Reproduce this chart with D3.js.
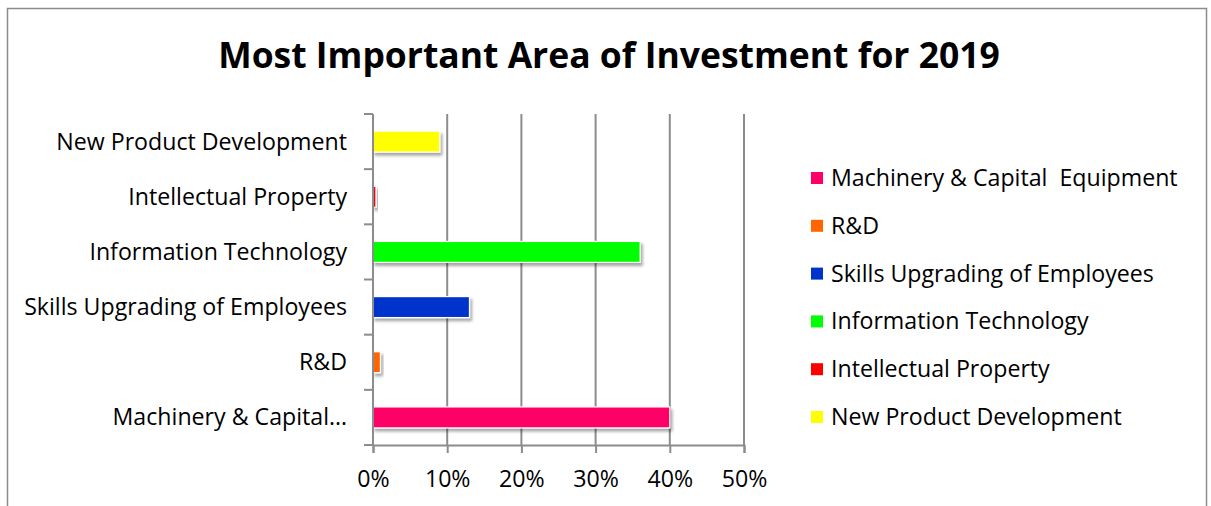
<!DOCTYPE html>
<html>
<head>
<meta charset="utf-8">
<script src="https://cdn.jsdelivr.net/npm/d3@7"></script>
<style>
  html, body { margin: 0; padding: 0; background: #fff; }
  svg { display: block; }
  text { font-family: "Open Sans", Carlito, Calibri, sans-serif; fill: #000; }
</style>
</head>
<body>
<svg id="chart" width="1211" height="506"></svg>
<script>
// Survey answers: share of respondents naming each area (bottom to top on the chart)
const categories = [
  "Machinery & Capital  Equipment",
  "R&D",
  "Skills Upgrading of Employees",
  "Information Technology",
  "Intellectual Property",
  "New Product Development"
];
const axisLabels = [
  "Machinery & Capital…",
  "R&D",
  "Skills Upgrading of Employees",
  "Information Technology",
  "Intellectual Property",
  "New Product Development"
];
const values = [0.40, 0.01, 0.13, 0.36, 0.004, 0.09];
const colors = ["#FF0066", "#FF6600", "#0033CC", "#00FF00", "#FF0000", "#FFFF00"];
const xTicks = [0, 0.1, 0.2, 0.3, 0.4, 0.5];
const title = "Most Important Area of Investment for 2019";

const svg = d3.select("#chart");

// Pick a font size so that a text spans the wanted width
function fitSize(str, width, weight) {
  const t = svg.append("text").style("font-size", "100px").style("font-weight", weight || "normal").text(str);
  const w = t.node().getComputedTextLength();
  t.remove();
  return 100 * width / w;
}

// Outer chart frame
svg.append("rect")
  .attr("x", 7.5).attr("y", 8.5)
  .attr("width", 1199).attr("height", 520)
  .attr("fill", "#fff").attr("stroke", "#8c8c8c").attr("stroke-width", 1.5);

// Soft shadow under the bars
const defs = svg.append("defs");
const f = defs.append("filter").attr("id", "barShadow")
  .attr("x", "-20%").attr("y", "-40%").attr("width", "160%").attr("height", "200%");
f.append("feDropShadow")
  .attr("dx", 2).attr("dy", 3).attr("stdDeviation", 1.8)
  .attr("flood-color", "#000").attr("flood-opacity", 0.35);

// Title
const titleSize = Math.min(fitSize(title, 782, "bold"), 36);
svg.append("text")
  .attr("x", 609).attr("y", 68)
  .attr("text-anchor", "middle")
  .style("font-size", titleSize + "px").style("font-weight", "bold")
  .text(title);

const labelSize = Math.min(fitSize("Skills Upgrading of Employees", 323), 25);

const plot = { left: 373, right: 744, top: 114, bottom: 445 };

const x = d3.scaleLinear().domain([0, 0.5]).range([plot.left, plot.right]);
const y = d3.scaleBand()
  .domain(d3.range(categories.length))
  .range([plot.bottom, plot.top])
  .paddingInner(0.62).paddingOuter(0.31);
const yTicks = d3.scaleBand().domain(d3.range(categories.length)).range([plot.bottom, plot.top]);

const grey = "#8c8c8c";

// Vertical gridlines
svg.append("g").selectAll("line")
  .data(xTicks.slice(1))
  .join("line")
  .attr("x1", d => x(d)).attr("x2", d => x(d))
  .attr("y1", plot.top).attr("y2", plot.bottom)
  .attr("stroke", grey).attr("stroke-width", 2);

// Bars
svg.append("g").selectAll("rect")
  .data(values)
  .join("rect")
  .attr("x", x(0))
  .attr("y", (d, i) => y(i))
  .attr("width", d => x(d) - x(0))
  .attr("height", y.bandwidth())
  .attr("fill", (d, i) => colors[i])
  .attr("stroke", "#fff").attr("stroke-width", 1.2)
  .attr("filter", "url(#barShadow)");

// X axis
const xAxis = d3.axisBottom(x).tickValues(xTicks).tickFormat(d3.format(".0%")).tickSizeOuter(0).tickSize(8);
const gx = svg.append("g").attr("transform", `translate(0,${plot.bottom})`).call(xAxis);
gx.select(".domain").attr("stroke", grey).attr("stroke-width", 2);
gx.selectAll(".tick line").attr("stroke", grey).attr("stroke-width", 2);
gx.selectAll(".tick text").attr("dy", 0).attr("y", 42)
  .style("font-size", labelSize + "px")
  .style("font-family", "\"Open Sans\", Carlito, Calibri, sans-serif");

// Y axis: tick marks at band boundaries, labels at band centres
const yBounds = d3.range(categories.length + 1).map(i => i === categories.length ? plot.top : yTicks(i) + yTicks.bandwidth());
svg.append("line")
  .attr("x1", plot.left).attr("x2", plot.left)
  .attr("y1", plot.top).attr("y2", plot.bottom)
  .attr("stroke", grey).attr("stroke-width", 2);
svg.append("g").selectAll("line")
  .data(yBounds)
  .join("line")
  .attr("x1", plot.left - 9).attr("x2", plot.left)
  .attr("y1", d => d).attr("y2", d => d)
  .attr("stroke", grey).attr("stroke-width", 2);
svg.append("g").selectAll("text")
  .data(axisLabels)
  .join("text")
  .attr("x", 347)
  .attr("y", (d, i) => yTicks(i) + yTicks.bandwidth() / 2 + 8)
  .attr("text-anchor", "end")
  .style("font-size", labelSize + "px")
  .text(d => d);

// Legend
const legend = svg.append("g").attr("transform", "translate(811,0)");
const rowY = d3.scalePoint().domain(d3.range(categories.length)).range([178, 417]);
const items = legend.selectAll("g").data(categories).join("g")
  .attr("transform", (d, i) => `translate(0,${rowY(i)})`);
items.append("rect")
  .attr("x", 0).attr("y", -6).attr("width", 12).attr("height", 12)
  .attr("fill", (d, i) => colors[i]);
items.append("text")
  .attr("x", 20).attr("y", 8)
  .style("font-size", labelSize + "px")
  .style("white-space", "pre")
  .text(d => d);
</script>
</body>
</html>
